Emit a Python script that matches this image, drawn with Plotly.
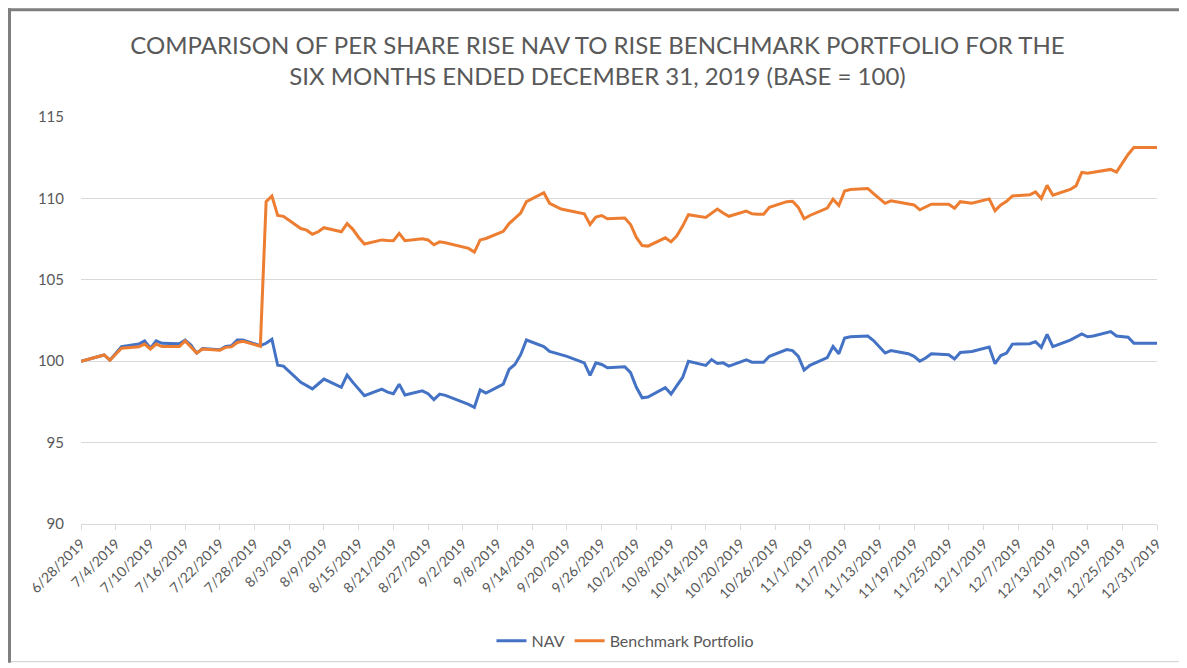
import plotly.graph_objects as go
import pandas as pd

dates = [
    "2019-06-28",
    "2019-07-01", "2019-07-02", "2019-07-03", "2019-07-05",
    "2019-07-08", "2019-07-09", "2019-07-10", "2019-07-11", "2019-07-12",
    "2019-07-15", "2019-07-16", "2019-07-17", "2019-07-18", "2019-07-19",
    "2019-07-22", "2019-07-23", "2019-07-24", "2019-07-25", "2019-07-26",
    "2019-07-29", "2019-07-30", "2019-07-31", "2019-08-01", "2019-08-02",
    "2019-08-05", "2019-08-06", "2019-08-07", "2019-08-08", "2019-08-09",
    "2019-08-12", "2019-08-13", "2019-08-14", "2019-08-15", "2019-08-16",
    "2019-08-19", "2019-08-20", "2019-08-21", "2019-08-22", "2019-08-23",
    "2019-08-26", "2019-08-27", "2019-08-28", "2019-08-29", "2019-08-30",
    "2019-09-03", "2019-09-04", "2019-09-05", "2019-09-06",
    "2019-09-09", "2019-09-10", "2019-09-11", "2019-09-12", "2019-09-13",
    "2019-09-16", "2019-09-17", "2019-09-18", "2019-09-19", "2019-09-20",
    "2019-09-23", "2019-09-24", "2019-09-25", "2019-09-26", "2019-09-27",
    "2019-09-30", "2019-10-01", "2019-10-02", "2019-10-03", "2019-10-04",
    "2019-10-07", "2019-10-08", "2019-10-09", "2019-10-10", "2019-10-11",
    "2019-10-14", "2019-10-15", "2019-10-16", "2019-10-17", "2019-10-18",
    "2019-10-21", "2019-10-22", "2019-10-23", "2019-10-24", "2019-10-25",
    "2019-10-28", "2019-10-29", "2019-10-30", "2019-10-31", "2019-11-01",
    "2019-11-04", "2019-11-05", "2019-11-06", "2019-11-07", "2019-11-08",
    "2019-11-11", "2019-11-12", "2019-11-13", "2019-11-14", "2019-11-15",
    "2019-11-18", "2019-11-19", "2019-11-20", "2019-11-21", "2019-11-22",
    "2019-11-25", "2019-11-26", "2019-11-27", "2019-11-29",
    "2019-12-02", "2019-12-03", "2019-12-04", "2019-12-05", "2019-12-06",
    "2019-12-09", "2019-12-10", "2019-12-11", "2019-12-12", "2019-12-13",
    "2019-12-16", "2019-12-17", "2019-12-18", "2019-12-19", "2019-12-20",
    "2019-12-23", "2019-12-24", "2019-12-26", "2019-12-27",
    "2019-12-30", "2019-12-31",
]

nav = [
    100.0,
    100.3, 100.38, 100.06, 100.9,
    101.05, 101.25, 100.8, 101.25, 101.1,
    101.07, 101.3, 101.0, 100.5, 100.78,
    100.7, 100.9, 100.95, 101.3, 101.3,
    100.95, 101.1, 101.35, 99.75, 99.7,
    98.7, 98.5, 98.3, 98.6, 98.9,
    98.4, 99.15, 98.7, 98.3, 97.88,
    98.28, 98.1, 98.0, 98.59, 97.92,
    98.18, 98.0, 97.64, 97.98, 97.9,
    97.35, 97.17, 98.24, 98.04,
    98.59, 99.5, 99.8, 100.4, 101.3,
    100.9, 100.6, 100.5, 100.4, 100.3,
    99.9, 99.13, 99.9, 99.8, 99.6,
    99.66, 99.3, 98.4, 97.75, 97.8,
    98.38, 97.98, 98.5, 99.0, 100.0,
    99.74, 100.1, 99.86, 99.9, 99.7,
    100.08, 99.94, 99.94, 99.94, 100.3,
    100.72, 100.65, 100.3, 99.45, 99.75,
    100.22, 100.9, 100.46, 101.42, 101.5,
    101.55, 101.27, 100.9, 100.5, 100.65,
    100.46, 100.3, 100.0, 100.2, 100.46,
    100.4, 100.14, 100.54, 100.6,
    100.87, 99.85, 100.35, 100.5, 101.05,
    101.07, 101.2, 100.85, 101.65, 100.9,
    101.3, 101.47, 101.68, 101.5, 101.55,
    101.82, 101.55, 101.47, 101.11,
    101.11, 101.1,
]

benchmark = [
    100.0,
    100.3, 100.38, 100.06, 100.8,
    100.88, 101.05, 100.75, 101.05, 100.9,
    100.9, 101.25, 100.9, 100.5, 100.75,
    100.68, 100.85, 100.88, 101.15, 101.22,
    100.92, 109.8, 110.15, 108.95, 108.9,
    108.15, 108.05, 107.8, 107.95, 108.2,
    107.95, 108.45, 108.1, 107.6, 107.2,
    107.45, 107.42, 107.4, 107.85, 107.4,
    107.52, 107.45, 107.15, 107.33, 107.28,
    106.93, 106.7, 107.45, 107.54,
    107.98, 108.45, 108.8, 109.1, 109.8,
    110.35, 109.7, 109.5, 109.35, 109.27,
    109.05, 108.4, 108.85, 108.95, 108.75,
    108.8, 108.4, 107.6, 107.1, 107.07,
    107.58, 107.33, 107.7, 108.3, 109.0,
    108.83, 109.1, 109.35, 109.1, 108.9,
    109.22, 109.05, 109.03, 109.03, 109.45,
    109.8, 109.82, 109.45, 108.75, 108.95,
    109.4, 109.95, 109.56, 110.45, 110.55,
    110.61, 110.3, 110.0, 109.7, 109.85,
    109.64, 109.6, 109.3, 109.45, 109.64,
    109.64, 109.4, 109.8, 109.7,
    109.97, 109.25, 109.6, 109.82, 110.15,
    110.22, 110.4, 110.0, 110.8, 110.2,
    110.55, 110.77, 111.6, 111.55, 111.6,
    111.78, 111.62, 112.7, 113.13,
    113.13, 113.12,
]

tick_dates = pd.date_range("2019-06-28", "2019-12-31", freq="6D")
tick_labels = [f"{d.month}/{d.day}/{d.year}" for d in tick_dates]

y_ticks = [90, 95, 100, 105, 110, 115]

NAV_COLOR = "#4472C4"
BENCH_COLOR = "#ED7D31"
TEXT_COLOR = "#595959"
GRID_COLOR = "#D9D9D9"

# the page body adds an 8px offset, so the figure is 8px smaller each way
W, H = 1179, 660
ML, MR, MT, MB = 73, 30, 109, 143

fig = go.Figure()
fig.add_trace(go.Scatter(
    x=dates, y=nav, mode="lines", name="NAV",
    line=dict(color=NAV_COLOR, width=3),
))
fig.add_trace(go.Scatter(
    x=dates, y=benchmark, mode="lines", name="Benchmark Portfolio",
    line=dict(color=BENCH_COLOR, width=3),
))

fig.update_layout(
    width=W, height=H,
    margin=dict(l=ML, r=MR, t=MT, b=MB),
    paper_bgcolor="white", plot_bgcolor="white",
    font=dict(family="Lato, Open Sans, sans-serif", color=TEXT_COLOR, size=14),
    title=dict(
        text="COMPARISON OF PER SHARE RISE NAV TO RISE BENCHMARK PORTFOLIO FOR THE<br>SIX MONTHS ENDED DECEMBER 31, 2019 (BASE = 100)",
        x=0.5, xanchor="center", xref="container",
        y=1 - 46 / H, yanchor="middle", yref="container",
        font=dict(family="Lato, Open Sans, sans-serif", size=24, color=TEXT_COLOR),
    ),
    showlegend=True,
    legend=dict(
        orientation="h", x=0.506, xanchor="center", y=-0.284, yanchor="middle",
        font=dict(size=16, color=TEXT_COLOR), bgcolor="rgba(0,0,0,0)",
        itemwidth=30,
    ),
)

fig.update_xaxes(
    type="date",
    range=["2019-06-28", "2019-12-31"],
    tickvals=list(tick_dates), ticktext=tick_labels,
    tickangle=-45, tickfont=dict(size=14, color=TEXT_COLOR),
    showgrid=False, zeroline=False,
    showline=True, linecolor=GRID_COLOR, linewidth=1,
    ticks="outside", ticklen=5, tickcolor=GRID_COLOR,
)
fig.update_yaxes(
    range=[90, 115], tickvals=y_ticks,
    tickfont=dict(size=15, color=TEXT_COLOR),
    showgrid=True, gridcolor=GRID_COLOR, gridwidth=1,
    zeroline=False, showline=False, ticks="",
    ticklabelstandoff=16,
)

# frame around the chart, as in the reference picture
pw = W - ML - MR
ph = H - MT - MB
def px_x(p):
    return (p - ML) / pw
def px_y(p):
    return (H - MB - p) / ph

fig.add_shape(type="rect", xref="paper", yref="paper",
              x0=px_x(0), x1=px_x(W), y0=px_y(0), y1=px_y(3),
              fillcolor="#7F7F7F", line=dict(width=0), layer="above")
fig.add_shape(type="rect", xref="paper", yref="paper",
              x0=px_x(0), x1=px_x(3), y0=px_y(0), y1=px_y(656),
              fillcolor="#7F7F7F", line=dict(width=0), layer="above")
fig.add_shape(type="line", xref="paper", yref="paper",
              x0=px_x(3), x1=px_x(W), y0=px_y(655), y1=px_y(655),
              line=dict(color="#D0D0D0", width=1), layer="above")

fig.write_html("out.html")
